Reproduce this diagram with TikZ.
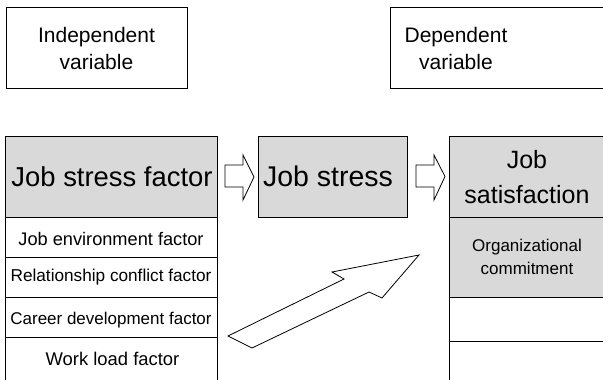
\documentclass[tikz,border=0pt]{standalone}
\usepackage{fontspec}
\setmainfont{Liberation Sans}
\definecolor{hdrgray}{RGB}{217,217,217}
\begin{document}
\begin{tikzpicture}[x=1pt,y=-1pt,
  box/.style={draw=black, line width=0.9pt},
  hdr/.style={draw=black, fill=hdrgray, line width=0.9pt},
  lbl/.style={inner sep=0pt, align=center, text=black},
  barrow/.style={draw=black, fill=white, line width=0.8pt, line join=miter}]
\useasboundingbox (0,0) rectangle (603,380);
\clip (0,0) rectangle (603,380);
% top boxes
\draw[box] (6,7) rectangle (187,88);
\draw[box] (390,7) rectangle (620,88);
% left column
\draw[hdr] (5,136) rectangle (217,217);
\draw[box] (5,217) rectangle (217,257);
\draw[box] (5,257) rectangle (217,297);
\draw[box] (5,297) rectangle (217,337);
\draw[box] (5,337) rectangle (217,400);
% middle box
\draw[hdr] (258,136) rectangle (407,217);
% right column
\draw[hdr] (449,136) rectangle (620,217);
\draw[hdr] (449,217) rectangle (620,297);
\draw[box] (449,297) rectangle (620,341);
\draw[box] (449,341) rectangle (620,400);
% labels
\node[lbl, font=\fontsize{21}{27}\selectfont] (indep) at (96.5,48.7) {Independent\\variable};
\node[lbl, font=\fontsize{21}{27}\selectfont] (dep) at (456,48.7) {Dependent\\variable};
\node[lbl, anchor=base, font=\fontsize{27.4}{30}\selectfont] (jsf) at (112,186.5) {Job stress factor};
\node[lbl, anchor=base, font=\fontsize{28.5}{30}\selectfont] (js) at (328,186.5) {Job stress};
\node[lbl, font=\fontsize{25}{35}\selectfont] (jsat) at (527,176.7) {Job\\satisfaction};
\node[lbl, font=\fontsize{17}{23.3}\selectfont] (oc) at (527,257.2) {Organizational\\commitment};
\node[lbl, anchor=base, font=\fontsize{18.2}{20}\selectfont] (jef) at (111,245.7) {Job environment factor};
\node[lbl, anchor=base, font=\fontsize{17.2}{20}\selectfont] (rcf) at (111,281.7) {Relationship conflict factor};
\node[lbl, anchor=base, font=\fontsize{17}{20}\selectfont] (cdf) at (111,324) {Career development factor};
\node[lbl, anchor=base, font=\fontsize{18.4}{20}\selectfont] (wlf) at (112.5,365) {Work load factor};
% block arrows
\draw[barrow] (225,165) -- (243,165) -- (243,155) -- (254,177) -- (243,200) -- (243,187) -- (225,187) -- cycle;
\draw[barrow] (416,165) -- (434,165) -- (434,155) -- (445,176.5) -- (434,200) -- (434,187) -- (416,187) -- cycle;
\draw[barrow] (228,336) -- (344,279) -- (332,272) -- (419,255) -- (382,298) -- (369,292) -- (252,348) -- cycle;
\end{tikzpicture}
\end{document}
